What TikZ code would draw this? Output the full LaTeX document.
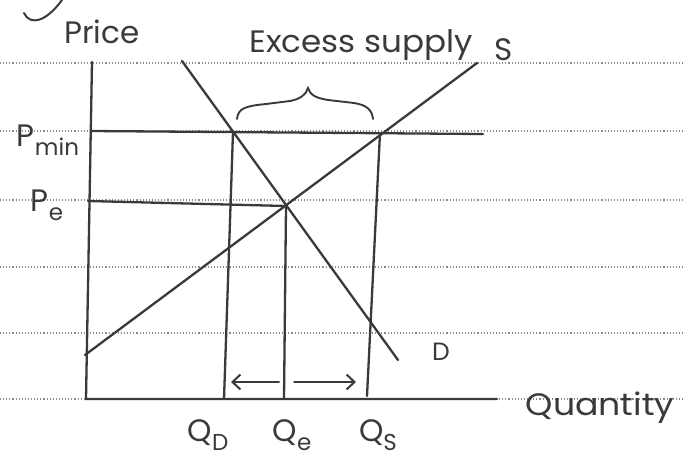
\documentclass[tikz,border=0pt]{standalone}
\usepackage{fontspec}
\setmainfont{Poppins}
\usetikzlibrary{arrows.meta}
\definecolor{ink}{HTML}{3A3A3A}
\definecolor{ruled}{HTML}{8A8A8A}
\newcommand{\lowsub}[1]{\raisebox{-0.3em}{\fontsize{23}{25}\selectfont #1}}
\begin{document}
\begin{tikzpicture}[x=1pt,y=-1pt,
  ink line/.style={draw=ink, line width=2.3pt, line cap=round},
  rule/.style={draw=ruled, dotted, line width=1.1pt},
  lbl/.style={text=ink, inner sep=0pt, font=\fontsize{31}{34}\selectfont},
  small lbl/.style={text=ink, inner sep=0pt, font=\fontsize{25}{28}\selectfont},
  qarrow/.style={ink line, line width=2pt, -{Straight Barb[length=8pt,width=15pt,line width=2pt]}}
]
\useasboundingbox (0,0) rectangle (685,463);
\fill[white] (0,0) rectangle (685,463);
% ruled paper lines
\foreach \yy in {63,131,200,267,333,399} \draw[rule] (0,\yy) -- (685,\yy);

% coordinates
\coordinate (ytop) at (92,62);
\coordinate (origin) at (86,399);
\coordinate (xend) at (497,399);
\coordinate (pminL) at (91,131);
\coordinate (pminR) at (483,134);
\coordinate (peL) at (88,201);
\coordinate (d1) at (182,61);
\coordinate (d2) at (398,360);
\coordinate (s1) at (85,355);
\coordinate (s2) at (477,63);
\coordinate (A) at (233,132);
\coordinate (E) at (286,206);
\coordinate (B) at (380,133);
\coordinate (qdB) at (224,399);
\coordinate (qeB) at (284,399);
\coordinate (qsB) at (367,396);
\coordinate (al1) at (279,382);
\coordinate (al2) at (231,382);
\coordinate (ar1) at (294,382);
\coordinate (ar2) at (356,382);
\coordinate (br1) at (237,119);
\coordinate (brtip) at (308,88);
\coordinate (br2) at (373,119);

% axes
\draw[ink line] (ytop) -- (origin) -- (xend);
% price floor
\draw[ink line] (pminL) -- (pminR);
% equilibrium price
\draw[ink line] (peL) -- (E);
% demand and supply
\draw[ink line] (d1) -- (d2);
\draw[ink line] (s1) -- (s2);
% quantity drop lines
\draw[ink line] (A) -- (qdB);
\draw[ink line] (E) -- (qeB);
\draw[ink line] (B) -- (qsB);
% arrows
\draw[qarrow] (al1) -- (al2);
\draw[qarrow] (ar1) -- (ar2);
% brace
\draw[ink line, line width=1.9pt] (br1) .. controls (238,108) and (246,106) .. (266,104) -- (290,101) .. controls (300,99) and (306,95) .. (brtip)
  .. controls (310,95) and (316,98) .. (328,100) -- (354,103) .. controls (367,105) and (372,110) .. (br2);
% stray stroke at top left
\draw[ink line, line width=2pt] (24,13) .. controls (30,26) and (46,22) .. (62,0);

% labels
\node[lbl] (price) at (102,32) {Price};
\node[lbl, xscale=1.05] (excess) at (361,45) {Excess supply};
\node[lbl] (slabel) at (504,50) {S};
\node[lbl] (pmin) at (48,140) {P\lowsub{min}};
\node[lbl] (pe) at (47,205) {P\lowsub{e}};
\node[small lbl] (dlabel) at (441,352) {D};
\node[lbl, xscale=1.12] (quantity) at (600,408) {Quantity};
\node[lbl] (qd) at (208,435) {Q\lowsub{D}};
\node[lbl] (qe) at (292,435) {Q\lowsub{e}};
\node[lbl] (qs) at (378,435) {Q\lowsub{S}};
\end{tikzpicture}
\end{document}
